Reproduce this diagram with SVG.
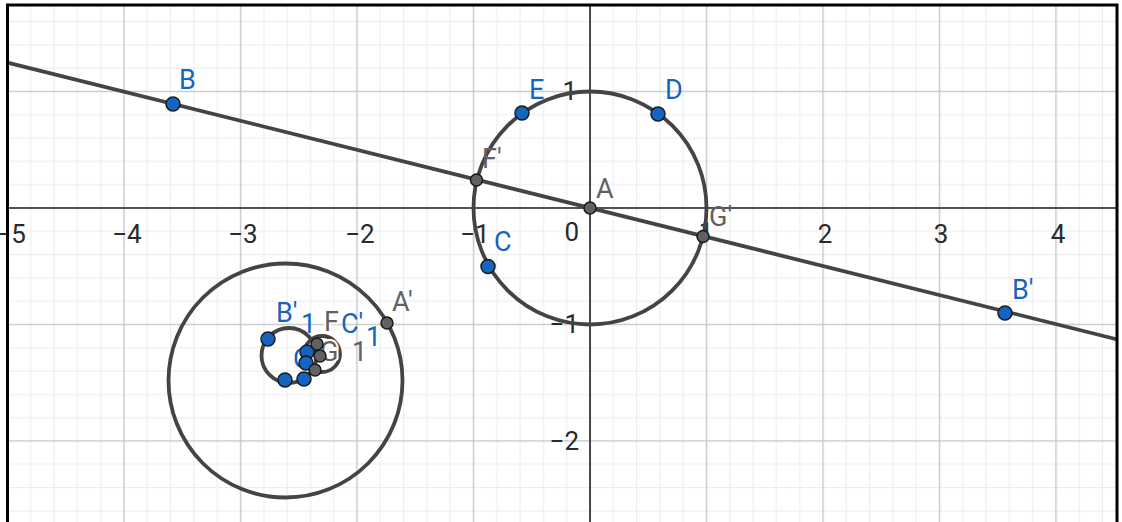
<svg xmlns="http://www.w3.org/2000/svg" width="1122" height="522" viewBox="0 0 1122 522">
<style>
.minor{stroke:#ebebeb;stroke-width:1;fill:none}
.major{stroke:#c4c4c4;stroke-width:1.3;fill:none}
.axis{stroke:#262626;stroke-width:1.6;fill:none}
.curve{stroke:#444444;stroke-width:3.8;fill:none}
.bp{fill:#1565c0;stroke:#1a1a1a;stroke-width:1.5}
.gp{fill:#616161;stroke:#1a1a1a;stroke-width:1.5}
.num{font-family:Roboto,"Liberation Sans",sans-serif;font-size:26px;fill:#2a2a2a}
.bl{font-family:Roboto,"Liberation Sans",sans-serif;font-size:27px;fill:#1565c0}
.gl{font-family:Roboto,"Liberation Sans",sans-serif;font-size:27px;fill:#616161}
.halo{stroke:#ffffff;stroke-width:4;paint-order:stroke}
</style>
<defs>
<pattern id="grid" patternUnits="userSpaceOnUse" x="578.35" y="196.35" width="116.5" height="116.5">
<path class="minor" d="M34.95 0V116.5M58.25 0V116.5M81.55 0V116.5M104.85 0V116.5M0 34.95H116.5M0 58.25H116.5M0 81.55H116.5M0 104.85H116.5"/>
<path class="major" d="M11.65 0V116.5M0 11.65H116.5"/>
</pattern>
<clipPath id="frame"><rect x="7.5" y="5" width="1109.5" height="520"/></clipPath>
</defs>
<rect width="1122" height="522" fill="#ffffff"/>
<g id="grid-area" clip-path="url(#frame)">
<rect x="0" y="0" width="1122" height="522" fill="url(#grid)"/>
<path class="axis" d="M0 208H1122M590 0V522"/>
</g>
<g id="axis-labels">
<text class="num" x="11" y="243" text-anchor="middle">−5</text>
<text class="num" x="127" y="243" text-anchor="middle">−4</text>
<text class="num" x="243" y="243" text-anchor="middle">−3</text>
<text class="num" x="360" y="243" text-anchor="middle">−2</text>
<text class="num" x="475" y="243" text-anchor="middle">−1</text>
<text class="num" x="706" y="241" text-anchor="middle">1</text>
<text class="num" x="825" y="243" text-anchor="middle">2</text>
<text class="num" x="941" y="243" text-anchor="middle">3</text>
<text class="num" x="1058" y="243" text-anchor="middle">4</text>
<text class="num" x="579" y="241" text-anchor="end">0</text>
<text class="num" x="577" y="100" text-anchor="end">1</text>
<text class="num" x="579" y="333" text-anchor="end">−1</text>
<text class="num" x="579" y="450" text-anchor="end">−2</text>
</g>
<g id="connectors" clip-path="url(#frame)">
<line class="curve" x1="0" y1="60.8" x2="1122" y2="340.6"/>
<circle class="curve" cx="590" cy="208" r="116.5"/>
<circle class="curve" cx="285.5" cy="380.5" r="117"/>
<circle class="curve" cx="289" cy="355.5" r="27.5"/>
<circle class="curve" cx="322" cy="354" r="18"/>
</g>
<g id="labels-cluster">
<text class="bl" x="276" y="322">B'</text>
<text class="bl" x="301" y="333">1</text>
<text class="gl halo" x="324" y="331">F</text>
<text class="bl" x="341" y="333">C'</text>
<text class="bl" x="366" y="346">1</text>
<text class="bl" x="293" y="368">C</text>
<text class="gl halo" x="320" y="361">G</text>
<text class="gl" x="352" y="361">1</text>
</g>
<g id="node-B"><circle class="bp" cx="173" cy="104" r="7"/><text class="bl" x="179" y="89">B</text></g>
<g id="node-E"><circle class="bp" cx="522" cy="113" r="7"/><text class="bl" x="529" y="99">E</text></g>
<g id="node-D"><circle class="bp" cx="658" cy="114" r="7"/><text class="bl" x="665" y="99">D</text></g>
<g id="node-F1"><circle class="gp" cx="476.5" cy="180" r="6"/><text class="gl" x="482" y="168">F'</text></g>
<g id="node-A"><circle class="gp" cx="590" cy="208" r="6"/><text class="gl" x="596" y="198">A</text></g>
<g id="node-C"><circle class="bp" cx="488" cy="266.5" r="7"/><text class="bl" x="494" y="251">C</text></g>
<g id="node-G1"><circle class="gp" cx="703" cy="236.5" r="6"/><text class="gl" x="709" y="226">G'</text></g>
<g id="node-B1"><circle class="bp" cx="1005" cy="313" r="7"/><text class="bl" x="1012" y="299">B'</text></g>
<g id="node-A1"><circle class="gp" cx="387" cy="323" r="6"/><text class="gl" x="392" y="311">A'</text></g>
<g id="node-cluster">
<circle class="bp" cx="268" cy="339" r="7"/>
<circle class="bp" cx="307" cy="352" r="7"/>
<circle class="bp" cx="306" cy="363" r="7"/>
<circle class="bp" cx="285" cy="380" r="7"/>
<circle class="bp" cx="304" cy="379" r="7"/>
<circle class="gp" cx="317" cy="344" r="6"/>
<circle class="gp" cx="320" cy="356" r="6"/>
<circle class="gp" cx="315" cy="370" r="6"/>
</g>
<g id="frame-border" fill="none" stroke="#000000" stroke-width="3">
<path d="M7.5 522V5H1117V522"/>
</g>
</svg>
